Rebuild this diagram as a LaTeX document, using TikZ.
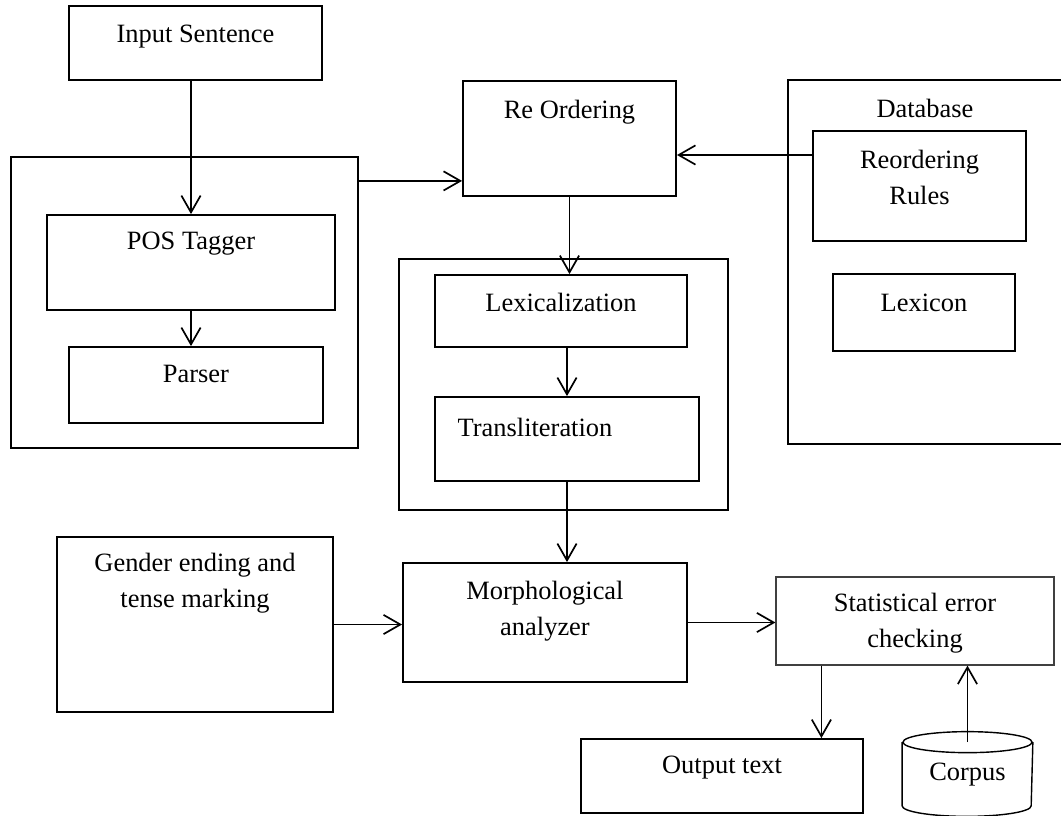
\documentclass[tikz,border=0pt]{standalone}
\usepackage{fontspec}
\setmainfont{Liberation Serif}
\usepackage{tikz}
\usetikzlibrary{arrows.meta,positioning,calc}
\tikzset{>={Straight Barb[length=0.42cm,width=0.48cm]}}
\tikzset{
  box/.style={draw, line width=1.3pt, inner sep=0pt},
  thinbox/.style={draw=black!75, line width=0.8pt, inner sep=0pt},
  txt/.style={anchor=center, align=center, inner sep=0pt},
}

\begin{document}
\begin{tikzpicture}[x=0.025cm, y=-0.025cm, line width=1.2pt, every node/.style={font=\fontsize{18.8pt}{25.6pt}\selectfont}]
\useasboundingbox (0,0) rectangle (1061,816);
% Input and tagging block
\node[box, minimum width=6.325cm, minimum height=1.85cm, label={[txt, yshift=-0.775cm]north:Input Sentence}] (inp) at (195.5,43) {};
\node[box, minimum width=8.675cm, minimum height=7.275cm] (tagcont) at (184.5,302.5) {};
\node[box, minimum width=7.2cm, minimum height=2.375cm, label={[txt, yshift=-0.75cm]north:POS Tagger}] (pos) at (191,262.5) {};
\node[box, minimum width=6.35cm, minimum height=1.9cm, label={[txt, yshift=-0.7cm]north:Parser}] (parser) at (196,385) {};
% Re ordering and lexical block
\node[box, minimum width=5.325cm, minimum height=2.875cm, label={[txt, yshift=-0.8cm]north:Re Ordering}] (reord) at (569.5,138.5) {};
\node[box, minimum width=8.225cm, minimum height=6.275cm] (lexcont) at (563.5,384.5) {};
\node[box, minimum width=6.3cm, minimum height=1.8cm, label={[txt, yshift=-0.7cm]north:Lexicalization}] (lex) at (561,311) {};
\node[box, minimum width=6.6cm, minimum height=2.1cm, label={[txt, yshift=-0.775cm, xshift=-0.8cm]north:Transliteration}] (trans) at (567,439) {};
% Database
\node[minimum width=6.8cm, minimum height=9.05cm, inner sep=0pt, label={[txt, yshift=-0.7cm]north:Database}] (db) at (925,262) {};
\draw[line width=1.3pt] (db.north east) -- (db.north west) -- (db.south west) -- (db.south east);
\node[box, minimum width=5.325cm, minimum height=2.75cm, label={[txt, yshift=-1.175cm]north:Reordering\\Rules}] (rules) at (919.5,186) {};
\node[box, minimum width=4.55cm, minimum height=1.925cm, label={[txt, yshift=-0.75cm]north:Lexicon}] (lexicon) at (924,312.5) {};
% Lower row
\node[box, minimum width=6.9cm, minimum height=4.375cm, label={[txt, yshift=-1.175cm]north:Gender ending and\\tense marking}] (gender) at (195,624.5) {};
\node[box, minimum width=7.1cm, minimum height=2.975cm, label={[txt, yshift=-1.225cm]north:Morphological\\analyzer}] (morph) at (545,622.5) {};
\node[thinbox, minimum width=6.95cm, minimum height=2.2cm, label={[txt, yshift=-1.175cm]north:Statistical error\\checking}] (stat) at (915,621) {};
\node[box, minimum width=7.05cm, minimum height=1.85cm, label={[txt, yshift=-0.725cm]north:Output text}] (out) at (722,776) {};
% Corpus cylinder
\node[minimum width=3.225cm, minimum height=1.55cm, inner sep=0pt, label={[txt, yshift=-0.8cm]north:Corpus}] (corpus) at (967.5,774) {};
\draw[line width=1pt] (corpus.north west) -- (corpus.south west) arc[start angle=180, end angle=360, x radius=1.6125cm, y radius=0.2625cm] -- (corpus.north east);
\draw[line width=1pt] (corpus.north) ellipse [x radius=1.6125cm, y radius=0.2625cm];
% Connectors
\draw[->] (inp.south -| pos.north) -- (pos.north);
\draw[->] (pos.south) -- (pos.south |- parser.north);
\coordinate (rin) at ([yshift=0.4cm]reord.south west);
\draw[->] (tagcont.east |- rin) -- (rin);
\coordinate (rout) at ([yshift=0.775cm]rules.west);
\draw[->] (rout) -- (rout -| reord.east);
\draw[->] (reord.south) -- (reord.south |- lex.north);
\draw[->] (trans.north |- lex.south) -- (trans.north);
\draw[->] (trans.south) -- (trans.south |- morph.north);
\draw[->] (gender.east) -- (gender.east -| morph.west);
\draw[->] (morph.east) -- (morph.east -| stat.west);
\coordinate (sdown) at ([xshift=1.15cm]stat.south west);
\draw[->] (sdown) -- (sdown |- out.north);
\draw[->] (corpus.north) -- (corpus.north |- stat.south);
\end{tikzpicture}
\end{document}
